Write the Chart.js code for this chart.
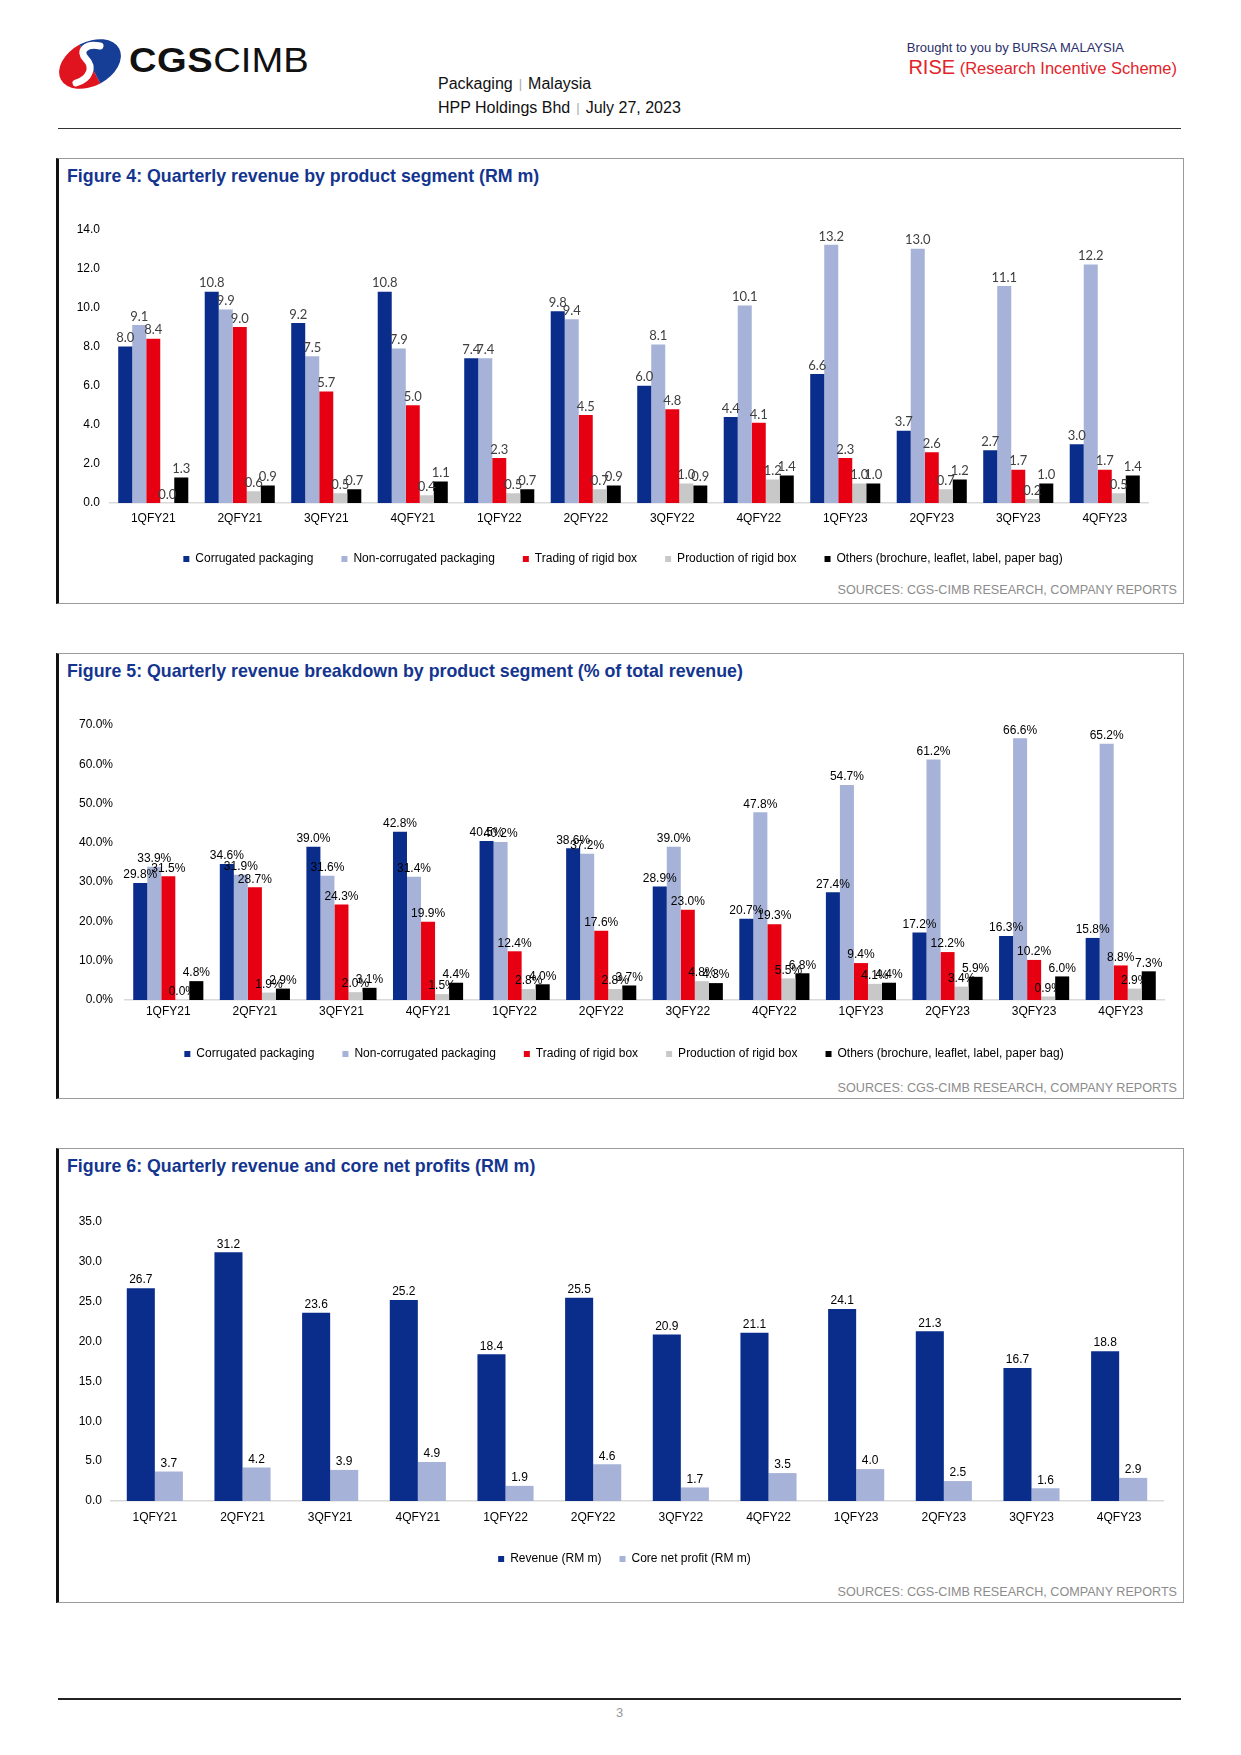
<!DOCTYPE html>
<html lang="en">
<head>
<meta charset="utf-8" />
<title>HPP Holdings Bhd - quarterly revenue charts</title>
<script src="https://cdn.jsdelivr.net/npm/chart.js@4.4.1/dist/chart.umd.min.js"></script>
<style>
  body { margin: 0; background: #fff; font-family: "Liberation Sans", Arial, sans-serif; }
  #page { position: relative; width: 1241px; height: 1755px; overflow: hidden; }
  .abs { position: absolute; white-space: nowrap; }
  .sep { color: #aaa; font-size: 13px; padding: 0 6px; position: relative; top: -1px; }
  .box { position: absolute; left: 56px; width: 1128px; border: 1px solid #9a9a9a; border-left: 3px solid #111; box-sizing: border-box; }
  .title { position: absolute; left: 8px; top: 7px; font-weight: bold; font-size: 17.8px; color: #14358f; }
  .src { position: absolute; right: 6px; font-size: 12.6px; color: #8c8c8c; }
  canvas { position: absolute; }
</style>
</head>
<body>
<div id="page">
  <!-- header -->
  <svg class="abs" style="left:56px;top:37px" width="68" height="54" viewBox="0 0 68 54">
    <defs>
      <clipPath id="lh"><rect x="0" y="0" width="34" height="54" /></clipPath>
      <clipPath id="rh"><rect x="34" y="0" width="34" height="54" /></clipPath>
    </defs>
    <g transform="rotate(-28 34 27)">
      <ellipse cx="34" cy="27" rx="33" ry="22" fill="#e0141e" clip-path="url(#lh)" />
      <ellipse cx="34" cy="27" rx="33" ry="22" fill="#173e97" clip-path="url(#rh)" />
    </g>
    <path d="M44 9 C30 6 22 14 30 22 C38 30 34 42 20 46" stroke="#fff" stroke-width="7" fill="none" stroke-linecap="round" />
  </svg>
  <div class="abs" style="left:129px;top:40px;font-size:35px;line-height:40px;color:#111;transform:scaleX(1.09);transform-origin:left top">
    <b style="letter-spacing:0.5px">CGS</b><span>CIMB</span>
  </div>
  <div class="abs" style="left:438px;top:75px;font-size:16px;color:#111">Packaging<span class="sep">|</span>Malaysia</div>
  <div class="abs" style="left:438px;top:99px;font-size:16px;color:#111">HPP Holdings Bhd<span class="sep">|</span>July 27, 2023</div>
  <div class="abs" style="right:117px;top:40px;font-size:13px;color:#2c2f6b">Brought to you by BURSA MALAYSIA</div>
  <div class="abs" style="right:64px;top:56px;font-size:16.5px;color:#e2232a"><span style="font-size:20px">RISE</span> (Research Incentive Scheme)</div>
  <div class="abs" style="left:58px;top:128px;width:1123px;height:1px;background:#333"></div>

  <!-- figure boxes -->
  <div class="box" style="top:158px;height:446px">
    <div class="title">Figure 4: Quarterly revenue by product segment (RM m)</div>
    <div class="src" style="top:424px">SOURCES: CGS-CIMB RESEARCH, COMPANY REPORTS</div>
  </div>
  <div class="box" style="top:653px;height:446px">
    <div class="title">Figure 5: Quarterly revenue breakdown by product segment (% of total revenue)</div>
    <div class="src" style="top:427px">SOURCES: CGS-CIMB RESEARCH, COMPANY REPORTS</div>
  </div>
  <div class="box" style="top:1148px;height:455px">
    <div class="title">Figure 6: Quarterly revenue and core net profits (RM m)</div>
    <div class="src" style="top:436px">SOURCES: CGS-CIMB RESEARCH, COMPANY REPORTS</div>
  </div>

  <canvas id="fig4" width="1110" height="367" style="left:60px;top:212px"></canvas>
  <canvas id="fig5" width="1112" height="377" style="left:60px;top:700px"></canvas>
  <canvas id="fig6" width="1112" height="372" style="left:60px;top:1203px"></canvas>

  <!-- footer -->
  <div class="abs" style="left:58px;top:1698px;width:1123px;height:2px;background:#222"></div>
  <div class="abs" style="left:616px;top:1705px;font-size:13px;color:#999">3</div>
</div>

<script>
  // quarters shown on every chart
  const quarters = ["1QFY21", "2QFY21", "3QFY21", "4QFY21", "1QFY22", "2QFY22",
    "3QFY22", "4QFY22", "1QFY23", "2QFY23", "3QFY23", "4QFY23"]

  const segmentNames = ["Corrugated packaging", "Non-corrugated packaging", "Trading of rigid box",
    "Production of rigid box", "Others (brochure, leaflet, label, paper bag)"]
  const segmentColors = ["#0a2d8c", "#a6b2d7", "#e60012", "#c8c8c8", "#000000"]

  // Figure 4: revenue by segment, RM m
  const corrugatedRm = [8.0, 10.8, 9.2, 10.8, 7.4, 9.8, 6.0, 4.4, 6.6, 3.7, 2.7, 3.0]
  const nonCorrugatedRm = [9.1, 9.9, 7.5, 7.9, 7.4, 9.4, 8.1, 10.1, 13.2, 13.0, 11.1, 12.2]
  const tradingRigidRm = [8.4, 9.0, 5.7, 5.0, 2.3, 4.5, 4.8, 4.1, 2.3, 2.6, 1.7, 1.7]
  const productionRigidRm = [0.0, 0.6, 0.5, 0.4, 0.5, 0.7, 1.0, 1.2, 1.0, 0.7, 0.2, 0.5]
  const othersRm = [1.3, 0.9, 0.7, 1.1, 0.7, 0.9, 0.9, 1.4, 1.0, 1.2, 1.0, 1.4]

  // Figure 5: share of total revenue, %
  const corrugatedPct = [29.8, 34.6, 39.0, 42.8, 40.5, 38.6, 28.9, 20.7, 27.4, 17.2, 16.3, 15.8]
  const nonCorrugatedPct = [33.9, 31.9, 31.6, 31.4, 40.2, 37.2, 39.0, 47.8, 54.7, 61.2, 66.6, 65.2]
  const tradingRigidPct = [31.5, 28.7, 24.3, 19.9, 12.4, 17.6, 23.0, 19.3, 9.4, 12.2, 10.2, 8.8]
  const productionRigidPct = [0.0, 1.9, 2.0, 1.5, 2.8, 2.8, 4.8, 5.5, 4.1, 3.4, 0.9, 2.9]
  const othersPct = [4.8, 2.9, 3.1, 4.4, 4.0, 3.7, 4.3, 6.8, 4.4, 5.9, 6.0, 7.3]

  // Figure 6: revenue and core net profit, RM m
  const revenueRm = [26.7, 31.2, 23.6, 25.2, 18.4, 25.5, 20.9, 21.1, 24.1, 21.3, 16.7, 18.8]
  const coreProfitRm = [3.7, 4.2, 3.9, 4.9, 1.9, 4.6, 1.7, 3.5, 4.0, 2.5, 1.6, 2.9]

  const FONT = "'Liberation Sans', Arial, sans-serif"

  // value labels on top of each bar
  const barLabels = {
    id: "barLabels",
    afterDatasetsDraw(chart, args, o) {
      const ctx = chart.ctx
      ctx.save()
      ctx.font = o.font
      ctx.fillStyle = o.color
      ctx.textAlign = "center"
      ctx.textBaseline = "bottom"
      chart.data.datasets.forEach((ds, i) => {
        chart.getDatasetMeta(i).data.forEach((bar, j) => {
          ctx.fillText(ds.data[j].toFixed(1) + o.suffix, bar.x, bar.y - 2)
        })
      })
      ctx.restore()
    },
  }

  // nudge the legend box after layout (the legend sits a little right of centre in the report)
  const legendShift = {
    id: "legendShift",
    afterLayout(chart, args, o) {
      const lg = chart.legend
      if (!lg) return
      lg.left += o.dx
      lg.right += o.dx
      lg.top += o.dy
      lg.bottom += o.dy
    },
  }

  function makeChart(id, sets, cfg) {
    return new Chart(document.getElementById(id), {
      type: "bar",
      data: {
        labels: quarters,
        datasets: sets.map(s => ({
          label: s.label,
          data: s.data,
          backgroundColor: s.color,
          borderWidth: 0,
          categoryPercentage: cfg.groupWidth,
          barPercentage: 1.0,
        })),
      },
      plugins: [barLabels, legendShift],
      options: {
        responsive: false,
        animation: false,
        layout: { padding: { top: cfg.top, right: cfg.right, left: 0, bottom: 0 } },
        scales: {
          x: {
            grid: { display: false, drawTicks: false },
            border: { display: true, color: "#d9d9d9", width: 1.5 },
            ticks: { color: "#000", font: { family: FONT, size: 12 }, padding: cfg.xPad },
            afterFit: s => { s.height = cfg.xHeight },
          },
          y: {
            min: 0,
            max: cfg.max,
            grid: { display: false, drawTicks: false },
            border: { display: false },
            ticks: {
              stepSize: cfg.step,
              color: "#000",
              padding: cfg.yPad,
              font: { family: FONT, size: 12 },
              callback: v => v.toFixed(1) + cfg.suffix,
            },
            afterFit: s => { s.width = cfg.yWidth },
          },
        },
        plugins: {
          tooltip: { enabled: false },
          legend: {
            position: "bottom",
            labels: {
              boxWidth: 6,
              boxHeight: 6,
              padding: cfg.legendGap,
              color: "#000",
              font: { family: FONT, size: 12 },
            },
          },
          legendShift: { dx: cfg.legendDx, dy: cfg.legendDy },
          barLabels: cfg.labels,
        },
      },
    })
  }

  const segSets = (arrs) => arrs.map((d, i) => ({ label: segmentNames[i], data: d, color: segmentColors[i] }))

  makeChart("fig4", segSets([corrugatedRm, nonCorrugatedRm, tradingRigidRm, productionRigidRm, othersRm]), {
    groupWidth: 0.81, max: 14, step: 2, suffix: "", top: 15, right: 22, xHeight: 26, yWidth: 50,
    yPad: 10, xPad: 8, legendGap: 28, legendDx: 19, legendDy: -4,
    labels: { font: "13px Lato, 'Liberation Sans', sans-serif", color: "#404040", suffix: "" },
  })

  makeChart("fig5", segSets([corrugatedPct, nonCorrugatedPct, tradingRigidPct, productionRigidPct, othersPct]), {
    groupWidth: 0.81, max: 70, step: 10, suffix: "%", top: 25, right: 8, xHeight: 27, yWidth: 65,
    yPad: 12, xPad: 4, legendGap: 28, legendDx: 12, legendDy: -7,
    labels: { font: "12px " + FONT, color: "#000", suffix: "%" },
  })

  makeChart("fig6", [
    { label: "Revenue (RM m)", data: revenueRm, color: "#0a2d8c" },
    { label: "Core net profit (RM m)", data: coreProfitRm, color: "#a6b2d7" },
  ], {
    groupWidth: 0.64, max: 35, step: 5, suffix: "", top: 19, right: 9, xHeight: 34, yWidth: 51,
    yPad: 9, xPad: 9, legendGap: 18, legendDx: 13, legendDy: 0,
    labels: { font: "12px " + FONT, color: "#000", suffix: "" },
  })
</script>
</body>
</html>
